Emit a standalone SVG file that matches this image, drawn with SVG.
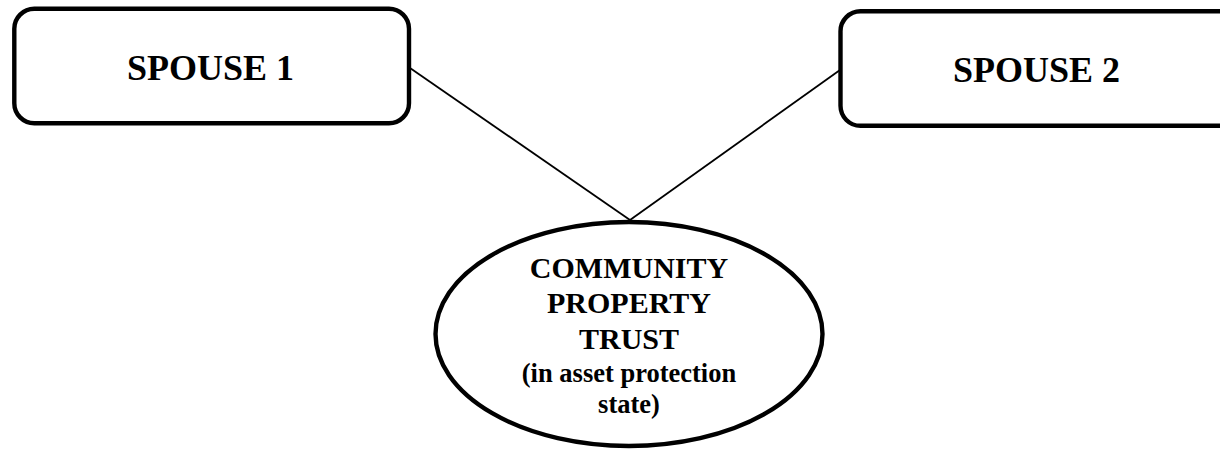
<svg xmlns="http://www.w3.org/2000/svg" width="1220" height="449" viewBox="0 0 1220 449">
  <style>
    .box { fill: #ffffff; stroke: #000000; stroke-width: 4.4; }
    .link { stroke: #000000; stroke-width: 1.8; fill: none; }
    .label { font-family: "Liberation Serif", "Times New Roman", serif; font-weight: bold; fill: #000000; text-anchor: middle; }
  </style>
  <rect width="1220" height="449" fill="#ffffff"/>

  <!-- connectors -->
  <g id="connectors">
    <line class="link" x1="410" y1="68" x2="630" y2="220"/>
    <line class="link" x1="840" y1="70" x2="630" y2="220"/>
  </g>

  <g id="spouse1">
    <rect class="box" x="14.3" y="8.8" width="394.7" height="114.4" rx="20" ry="20"/>
    <text class="label" x="210.5" y="79.5" font-size="36">SPOUSE 1</text>
  </g>

  <g id="spouse2">
    <rect class="box" x="840.5" y="11.3" width="420" height="114.5" rx="20" ry="20"/>
    <text class="label" x="1036.5" y="81.5" font-size="36">SPOUSE 2</text>
  </g>

  <g id="trust">
    <ellipse class="box" cx="629" cy="334" rx="193.5" ry="112"/>
    <text class="label" x="629" y="277.5" font-size="30">COMMUNITY</text>
    <text class="label" x="629" y="313" font-size="30">PROPERTY</text>
    <text class="label" x="629" y="348.5" font-size="30">TRUST</text>
    <text class="label" x="629" y="381.5" font-size="26.5">(in asset protection</text>
    <text class="label" x="629" y="412.5" font-size="26.5">state)</text>
  </g>
</svg>
